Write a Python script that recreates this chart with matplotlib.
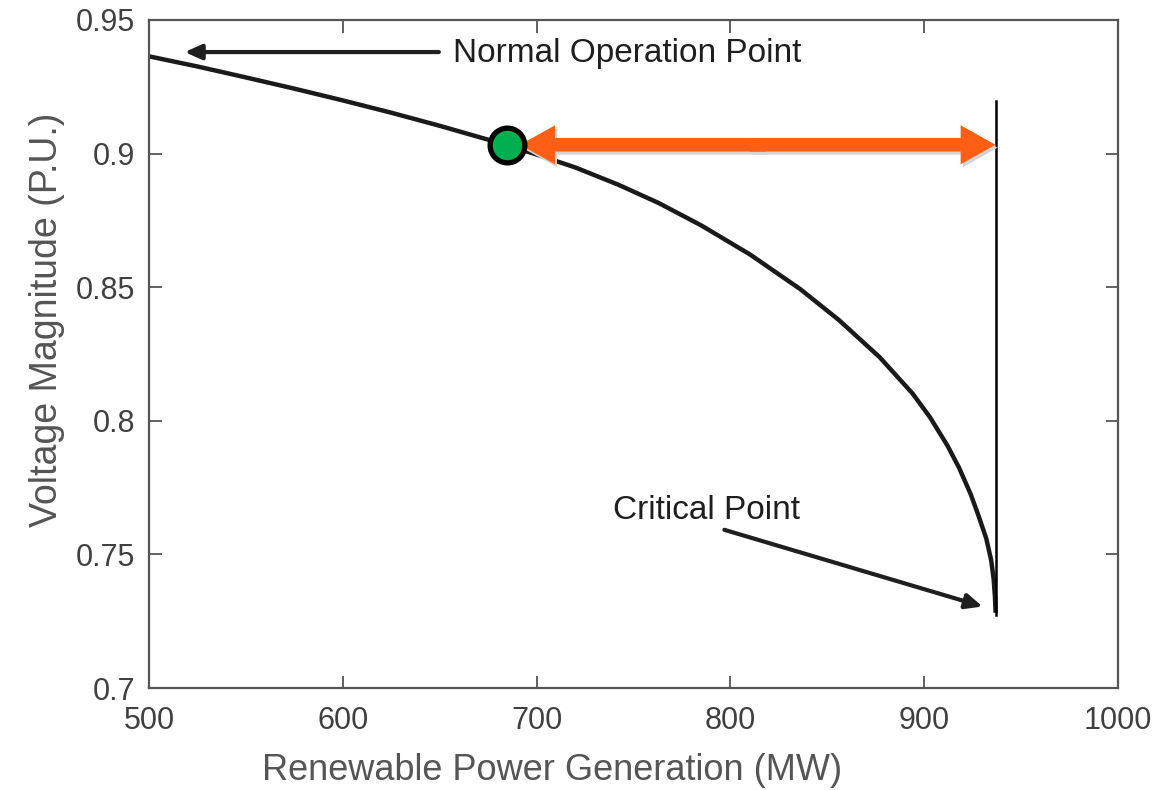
import numpy as np
import matplotlib.pyplot as plt
from matplotlib.transforms import offset_copy

#%% Data read off the PV (nose) curve
power_mw = [500, 525, 550, 575, 600, 625, 650, 675, 699, 720, 742, 763, 785, 810, 836,
            856, 877, 894, 903, 912, 918, 924, 928, 932, 934.5, 935.8, 936.5, 936.8]
voltage_pu = [0.9364, 0.9326, 0.9285, 0.9243, 0.9199, 0.9153, 0.9104, 0.9052, 0.8999,
              0.8948, 0.8884, 0.8815, 0.8731, 0.8623, 0.8493, 0.8377, 0.8238, 0.8102,
              0.8013, 0.7907, 0.7824, 0.7725, 0.7645, 0.7560, 0.7480, 0.7410, 0.7340, 0.7290]

op_point = (684.7, 0.9033)      # green operating point
limit_mw = 937.2                # vertical limit line
limit_v = (0.7275, 0.9195)
arrow_left = 691.5              # orange arrow tips
arrow_right = 936.8

x_ticks = [500, 600, 700, 800, 900, 1000]
y_ticks = [0.7, 0.75, 0.8, 0.85, 0.9, 0.95]
y_ticklabels = ['0.7', '0.75', '0.8', '0.85', '0.9', '0.95']

#%% Plot
plt.rcParams['font.family'] = ['Liberation Sans', 'DejaVu Sans']
fig = plt.figure(figsize=(11.76, 7.9), dpi=100)
ax = fig.add_axes([0.1267, 0.1291, 0.8240, 0.8456])

ax.plot(power_mw, voltage_pu, color='#1a1a1a', lw=3.2, solid_joinstyle='round')
ax.plot([limit_mw, limit_mw], limit_v, color='black', lw=1.8)

# orange double arrow (margin to the limit), with a soft shadow underneath
orange = '#FF5E14'
shadow_tr = offset_copy(ax.transData, fig=fig, x=2, y=-3, units='dots')
mid = (arrow_left + arrow_right) / 2
for start, end in [(mid + 4, arrow_left), (mid - 4, arrow_right)]:
    for col, tr, z in [('#d4d4d4', shadow_tr, 3), (orange, ax.transData, 4)]:
        ax.arrow(start, op_point[1], end - start, 0, width=0.0051, head_width=0.0146,
                 head_length=18, length_includes_head=True, color=col, lw=0,
                 zorder=z, transform=tr)

ax.plot(*op_point, 'o', ms=25, mfc='#00B050', mec='black', mew=3.8, zorder=5)

# annotations
ax.annotate('', xy=(517, 0.938), xytext=(651, 0.938),
            arrowprops=dict(arrowstyle='-|>,head_length=1.0,head_width=0.45',
                            color='#1f1f1f', lw=3))
ax.text(657, 0.9376, 'Normal Operation Point', fontsize=24, color='#1e1e1e',
        va='center', ha='left')
ax.annotate('', xy=(931.5, 0.7302), xytext=(795.5, 0.7595),
            arrowprops=dict(arrowstyle='-|>,head_length=1.0,head_width=0.45',
                            color='#1f1f1f', lw=3))
ax.text(739.5, 0.7665, 'Critical Point', fontsize=24, color='#1e1e1e',
        va='center', ha='left')

ax.set_xlim(500, 1000)
ax.set_ylim(0.7, 0.95)
ax.set_xticks(x_ticks)
ax.set_yticks(y_ticks)
ax.set_yticklabels(y_ticklabels)
ax.tick_params(direction='in', length=9, width=1.3, color='#555555',
               labelsize=22, labelcolor='#404040', top=True, right=True)
ax.tick_params(axis='x', pad=13)
ax.tick_params(axis='y', pad=10)
for sp in ax.spines.values():
    sp.set_color('#555555')
    sp.set_linewidth(1.6)

ax.set_xlabel('Renewable Power Generation (MW)', fontsize=26, color='#555555', labelpad=12)
ax.set_ylabel('Voltage Magnitude (P.U.)', fontsize=27, color='#555555', labelpad=8)
ax.xaxis.label.set_x(0.416)
ax.yaxis.label.set_y(0.551)

fig.savefig('out.png', dpi=100)
